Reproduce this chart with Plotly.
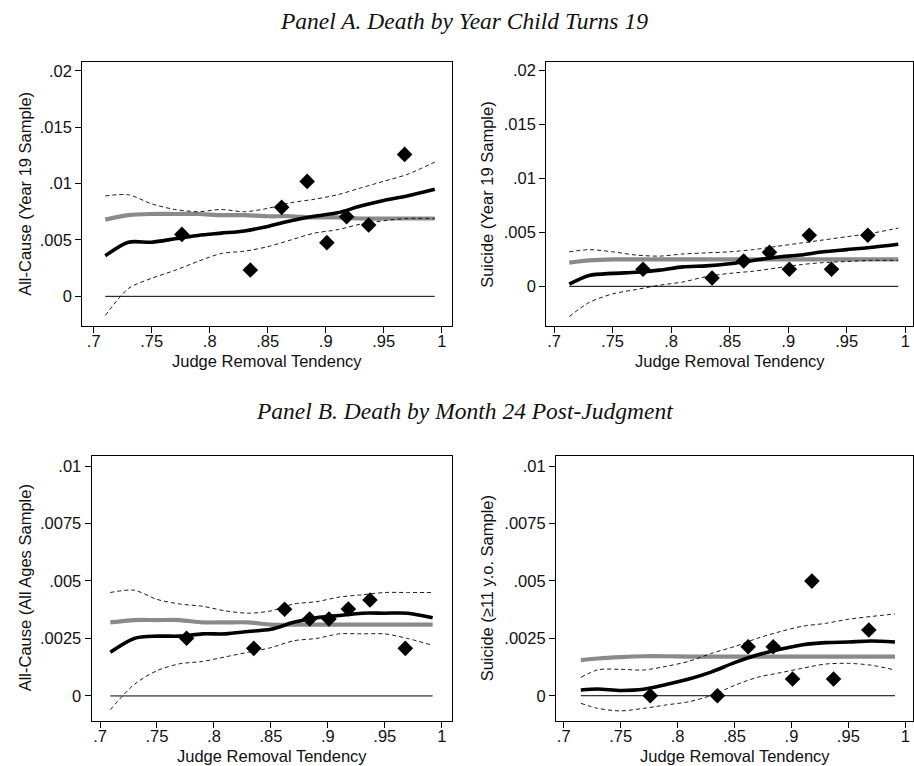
import plotly.graph_objects as go

# Binned judge removal tendency (x) shared by all four panels
BIN_X = [0.776, 0.835, 0.862, 0.884, 0.901, 0.918, 0.937, 0.968]

# Panel A, all-cause death by year child turns 19
A1_BINS = [0.00549, 0.00233, 0.00789, 0.01019, 0.00476, 0.00706, 0.00632, 0.01258]
A1_FIT_X = [0.710, 0.73, 0.75, 0.77, 0.79, 0.81, 0.83, 0.85, 0.87, 0.89, 0.91, 0.93, 0.95, 0.97, 0.994]
A1_LOCAL = [0.0036, 0.0048, 0.0048, 0.0051, 0.0054, 0.0056, 0.0058, 0.0062, 0.0067, 0.0071, 0.0074, 0.0080, 0.0085, 0.0089, 0.0095]
A1_LINEAR = [0.0068, 0.0072, 0.0073, 0.0073, 0.0073, 0.0072, 0.0072, 0.0071, 0.0071, 0.0070, 0.0070, 0.0069, 0.0069, 0.0069, 0.0069]
A1_HI = [0.0089, 0.0090, 0.0082, 0.0077, 0.0075, 0.0077, 0.0075, 0.0078, 0.0083, 0.0086, 0.0090, 0.0096, 0.0102, 0.0108, 0.0119]
A1_LO = [-0.0017, 0.0007, 0.0016, 0.0023, 0.0031, 0.0038, 0.0040, 0.0044, 0.0050, 0.0056, 0.0059, 0.0064, 0.0067, 0.0069, 0.0069]

# Panel A, suicide by year child turns 19
A2_BINS = [0.00158, 0.00077, 0.00235, 0.00315, 0.00158, 0.00473, 0.00158, 0.00473]
A2_FIT_X = [0.713, 0.73, 0.75, 0.77, 0.79, 0.81, 0.83, 0.85, 0.87, 0.89, 0.91, 0.93, 0.95, 0.97, 0.994]
A2_LOCAL = [0.0002, 0.0010, 0.0012, 0.0013, 0.0015, 0.0018, 0.0019, 0.0021, 0.0024, 0.0027, 0.0029, 0.0032, 0.0034, 0.0036, 0.0039]
A2_LINEAR = [0.0022, 0.0024, 0.0025, 0.0025, 0.0025, 0.0025, 0.0025, 0.0025, 0.0025, 0.0025, 0.0025, 0.0025, 0.0025, 0.0025, 0.0025]
A2_HI = [0.0032, 0.0034, 0.0032, 0.0029, 0.0028, 0.0030, 0.0031, 0.0032, 0.0034, 0.0037, 0.0040, 0.0043, 0.0046, 0.0049, 0.0054]
A2_LO = [-0.0028, -0.0015, -0.0007, -0.0003, 0.0001, 0.0004, 0.0009, 0.0012, 0.0014, 0.0017, 0.0020, 0.0022, 0.0023, 0.0024, 0.0024]

# Panel B, all-cause death by month 24 post-judgment
B1_BINS = [0.00251, 0.00207, 0.00377, 0.00335, 0.00335, 0.00378, 0.00417, 0.00207]
B1_FIT_X = [0.709, 0.73, 0.75, 0.77, 0.79, 0.81, 0.83, 0.85, 0.87, 0.89, 0.91, 0.93, 0.95, 0.97, 0.992]
B1_LOCAL = [0.0019, 0.0025, 0.0026, 0.0026, 0.0027, 0.0027, 0.0028, 0.0029, 0.0032, 0.0034, 0.0035, 0.0036, 0.0036, 0.0036, 0.0034]
B1_LINEAR = [0.0032, 0.0033, 0.0033, 0.0033, 0.0032, 0.0032, 0.0032, 0.0031, 0.0031, 0.0031, 0.0031, 0.0031, 0.0031, 0.0031, 0.0031]
B1_HI = [0.0045, 0.0046, 0.0042, 0.0040, 0.0039, 0.0037, 0.0036, 0.0037, 0.0040, 0.0041, 0.0043, 0.0044, 0.0045, 0.0045, 0.0045]
B1_LO = [-0.0006, 0.0005, 0.0011, 0.0014, 0.0015, 0.0017, 0.0019, 0.0021, 0.0024, 0.0025, 0.0027, 0.0027, 0.0027, 0.0025, 0.0022]

# Panel B, suicide (11+ year olds) by month 24 post-judgment
B2_BINS = [0.0, 0.0, 0.00213, 0.00213, 0.00073, 0.00499, 0.00073, 0.00286]
B2_FIT_X = [0.715, 0.73, 0.75, 0.77, 0.79, 0.81, 0.83, 0.85, 0.87, 0.89, 0.91, 0.93, 0.95, 0.97, 0.991]
B2_LOCAL = [0.00025, 0.00029, 0.00023, 0.00028, 0.00049, 0.00073, 0.00104, 0.00144, 0.00177, 0.00202, 0.00222, 0.00231, 0.00234, 0.00238, 0.00234]
B2_LINEAR = [0.00155, 0.00162, 0.00168, 0.00172, 0.00172, 0.0017, 0.0017, 0.0017, 0.0017, 0.0017, 0.0017, 0.0017, 0.0017, 0.0017, 0.0017]
B2_HI = [0.0008, 0.00113, 0.00115, 0.00112, 0.00128, 0.0015, 0.00185, 0.00214, 0.0025, 0.00279, 0.00303, 0.00315, 0.00333, 0.00345, 0.00356]
B2_LO = [-0.00033, -0.00055, -0.00066, -0.00055, -0.0004, -0.00026, 0.00002, 0.00045, 0.0008, 0.001, 0.0012, 0.00138, 0.00141, 0.00133, 0.00112]

X_TICKS = [0.7, 0.75, 0.8, 0.85, 0.9, 0.95, 1.0]
X_TICK_TEXT = [".7", ".75", ".8", ".85", ".9", ".95", "1"]
Y_TICKS_A = [0, 0.005, 0.01, 0.015, 0.02]
Y_TICK_TEXT_A = ["0", ".005", ".01", ".015", ".02"]
Y_TICKS_B = [0, 0.0025, 0.005, 0.0075, 0.01]
Y_TICK_TEXT_B = ["0", ".0025", ".005", ".0075", ".01"]

X_TITLE = "Judge Removal Tendency"
PANEL_A_TITLE = "Panel A. Death by Year Child Turns 19"
PANEL_B_TITLE = "Panel B. Death by Month 24 Post-Judgment"

W, H = 914, 766
SANS = "Liberation Sans, Arial, sans-serif"
SERIF = "Liberation Serif, Times New Roman, serif"
INK = "#111111"
GRAY = "#8a8a8a"
FS = 16.5

panels = [
    dict(ax="", fit_x=A1_FIT_X, bins=A1_BINS, local=A1_LOCAL, linear=A1_LINEAR, hi=A1_HI, lo=A1_LO,
         box=(82.3, 452.3, 61.7, 326), xr=[0.6902, 1.0091], yr=[-0.00263, 0.0208],
         yt=(Y_TICKS_A, Y_TICK_TEXT_A), ytitle="All-Cause (Year 19 Sample)", ytx=25, xty=361),
    dict(ax="2", fit_x=A2_FIT_X, bins=A2_BINS, local=A2_LOCAL, linear=A2_LINEAR, hi=A2_HI, lo=A2_LO,
         box=(546.3, 913, 61.7, 326), xr=[0.6934, 1.0066], yr=[-0.00368, 0.02083],
         yt=(Y_TICKS_A, Y_TICK_TEXT_A), ytitle="Suicide (Year 19 Sample)", ytx=487, xty=361),
    dict(ax="3", fit_x=B1_FIT_X, bins=B1_BINS, local=B1_LOCAL, linear=B1_LINEAR, hi=B1_HI, lo=B1_LO,
         box=(91.7, 452, 455.7, 721), xr=[0.6927, 1.009], yr=[-0.00109, 0.01045],
         yt=(Y_TICKS_B, Y_TICK_TEXT_B), ytitle="All-Cause (All Ages Sample)", ytx=25, xty=756),
    dict(ax="4", fit_x=B2_FIT_X, bins=B2_BINS, local=B2_LOCAL, linear=B2_LINEAR, hi=B2_HI, lo=B2_LO,
         box=(556, 913, 455.7, 721), xr=[0.6932, 1.0068], yr=[-0.0011, 0.01045],
         yt=(Y_TICKS_B, Y_TICK_TEXT_B), ytitle="Suicide (≥11 y.o. Sample)", ytx=487, xty=756),
]

fig = go.Figure()
layout = {}
annotations = []

for p in panels:
    xa, ya = "x" + p["ax"], "y" + p["ax"]
    fx = p["fit_x"]
    common = dict(xaxis=xa, yaxis=ya, showlegend=False, hoverinfo="skip")
    # zero reference line
    fig.add_trace(go.Scatter(x=[fx[0], fx[-1]], y=[0, 0], mode="lines",
                             line=dict(color="black", width=1), **common))
    # linear fit
    fig.add_trace(go.Scatter(x=fx, y=p["linear"], mode="lines",
                             line=dict(color=GRAY, width=4.2, shape="spline", smoothing=0.8), **common))
    # confidence band edges
    for band in (p["hi"], p["lo"]):
        fig.add_trace(go.Scatter(x=fx, y=band, mode="lines",
                                 line=dict(color="black", width=0.9, dash="4px,3px",
                                           shape="spline", smoothing=0.8), **common))
    # local linear fit
    fig.add_trace(go.Scatter(x=fx, y=p["local"], mode="lines",
                             line=dict(color="black", width=3.6, shape="spline", smoothing=0.8), **common))
    # binned means
    fig.add_trace(go.Scatter(x=BIN_X, y=p["bins"], mode="markers",
                             marker=dict(symbol="diamond", size=12, color="black",
                                         line=dict(width=0)), **common))

    x0, x1, y0, y1 = p["box"]
    axis_common = dict(showgrid=False, zeroline=False, showline=True, mirror=True,
                       linecolor="black", linewidth=1.2, ticks="outside", tickcolor="black",
                       tickwidth=1, ticklen=6, tickfont=dict(family=SANS, size=FS, color=INK))
    layout["xaxis" + p["ax"]] = dict(domain=[x0 / W, x1 / W], range=p["xr"], anchor=ya,
                                     tickvals=X_TICKS, ticktext=X_TICK_TEXT,
                                     ticklabelstandoff=-6, **axis_common)
    layout["yaxis" + p["ax"]] = dict(domain=[1 - y1 / H, 1 - y0 / H], range=p["yr"], anchor=xa,
                                     tickvals=p["yt"][0], ticktext=p["yt"][1],
                                     tickangle=0, **axis_common)
    annotations.append(dict(text=p["ytitle"], textangle=-90, x=p["ytx"] / W, y=1 - (y0 + y1) / 2 / H,
                            xref="paper", yref="paper", showarrow=False, xanchor="center", yanchor="middle",
                            font=dict(family=SANS, size=FS, color=INK)))
    annotations.append(dict(text=X_TITLE, x=(x0 + x1) / 2 / W, y=1 - p["xty"] / H,
                            xref="paper", yref="paper", showarrow=False, xanchor="center", yanchor="middle",
                            font=dict(family=SANS, size=FS, color=INK)))

for text, yc in ((PANEL_A_TITLE, 21), (PANEL_B_TITLE, 411)):
    annotations.append(dict(text="<i>" + text + "</i>", x=464 / W, y=1 - yc / H,
                            xref="paper", yref="paper", showarrow=False, xanchor="center", yanchor="middle",
                            font=dict(family=SERIF, size=23.5, color=INK)))

fig.update_layout(width=W, height=H, margin=dict(l=0, r=0, t=0, b=0),
                  paper_bgcolor="white", plot_bgcolor="white",
                  annotations=annotations, **layout)

fig.write_html("out.html")
